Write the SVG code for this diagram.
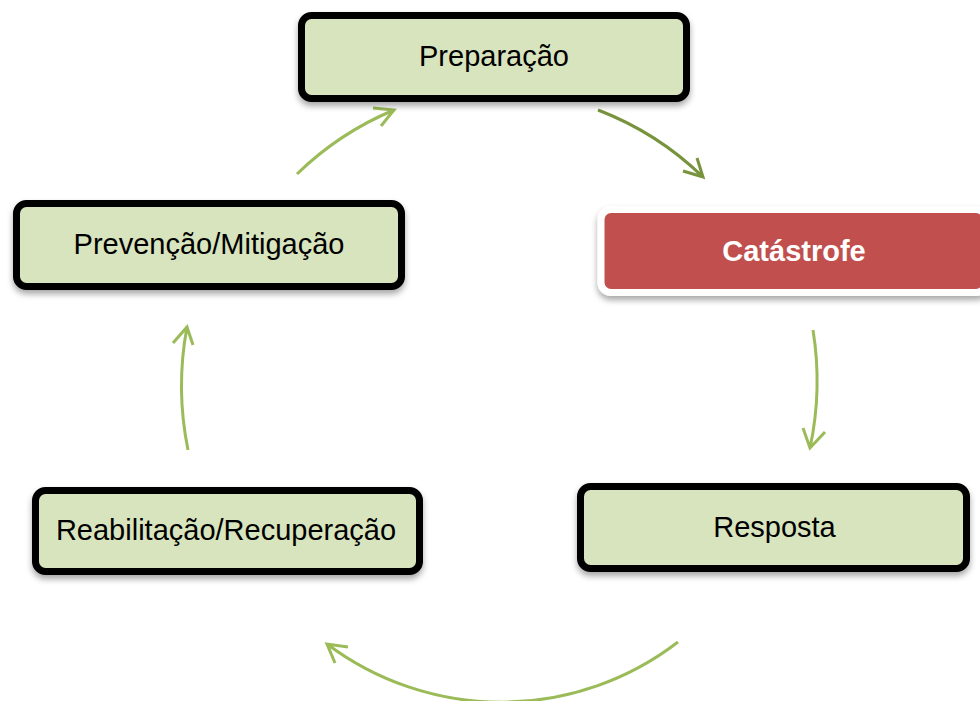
<svg xmlns="http://www.w3.org/2000/svg" width="980" height="701" viewBox="0 0 980 701">
  <defs>
    <filter id="shadow" x="-10%" y="-20%" width="120%" height="150%">
      <feDropShadow dx="0" dy="4" stdDeviation="3" flood-color="#000" flood-opacity="0.35"/>
    </filter>
  </defs>
  <style>
    .box { fill: #D7E4BD; stroke: #000; stroke-width: 7; filter: url(#shadow); }
    .alert { fill: #C0504D; stroke: #fff; stroke-width: 7; filter: url(#shadow); }
    .lbl { font-family: "Liberation Sans", Arial, sans-serif; font-size: 29px; fill: #000; text-anchor: middle; }
    .lblw { font-family: "Liberation Sans", Arial, sans-serif; font-size: 29px; font-weight: bold; fill: #fff; text-anchor: middle; }
    .arc { fill: none; stroke: #9BBB59; stroke-width: 3; }
    .arc.dark { stroke: #77933C; }
  </style>
  <rect width="980" height="701" fill="#fff"/>

  <g id="connectors">
    <path class="arc dark" d="M598,110 A310,310 0 0 1 703,177 M697,158 L703,177 L683,171"/>
    <path class="arc" d="M813,330 A320,320 0 0 1 810,448 M803,428 L810,448 L825,432"/>
    <path class="arc" d="M678,642 A290,290 0 0 1 327,644 M348,647 L327,644 L335,663"/>
    <path class="arc" d="M188,450 A320,320 0 0 1 187,327 M173,343 L187,327 L193,345"/>
    <path class="arc" d="M297,174 A310,310 0 0 1 394,110 M373,108 L394,110 L381,126"/>
  </g>

  <g id="node-preparacao">
    <rect class="box" x="301.5" y="15.5" width="385" height="83" rx="10"/>
    <text class="lbl" x="494" y="66">Preparação</text>
  </g>

  <g id="node-catastrofe">
    <rect class="alert" x="601" y="209.5" width="385" height="83" rx="10"/>
    <text class="lblw" x="794" y="261">Catástrofe</text>
  </g>

  <g id="node-resposta">
    <rect class="box" x="580.5" y="486.5" width="386" height="82" rx="10"/>
    <text class="lbl" x="774.5" y="537">Resposta</text>
  </g>

  <g id="node-reabilitacao">
    <rect class="box" x="35.5" y="490.5" width="384" height="81" rx="10"/>
    <text class="lbl" x="226" y="540">Reabilitação/Recuperação</text>
  </g>

  <g id="node-prevencao">
    <rect class="box" x="16.5" y="203.5" width="385" height="83" rx="10"/>
    <text class="lbl" x="209" y="254">Prevenção/Mitigação</text>
  </g>
</svg>
